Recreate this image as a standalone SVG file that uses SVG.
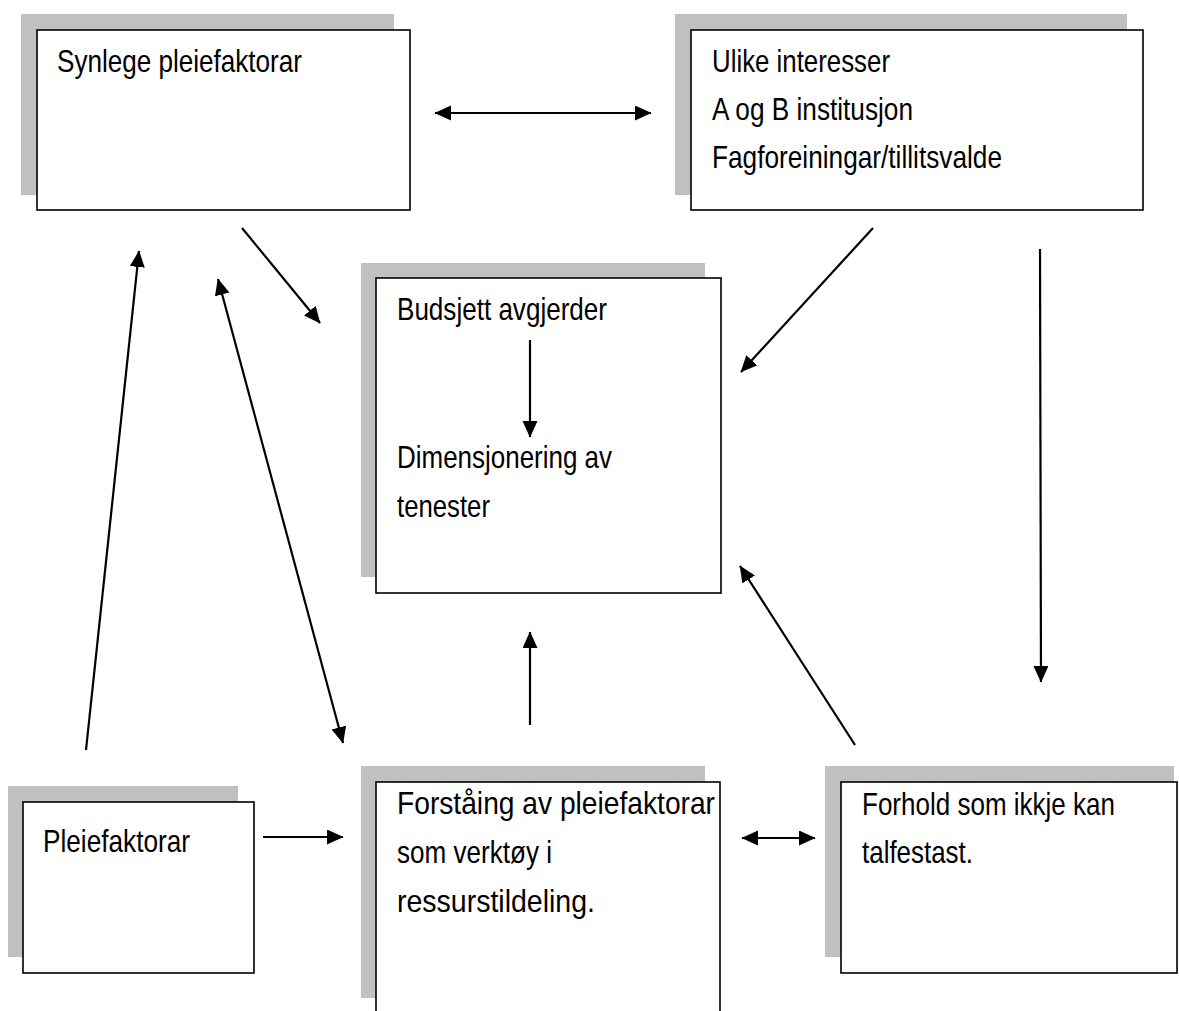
<svg xmlns="http://www.w3.org/2000/svg" width="1179" height="1011" viewBox="0 0 1179 1011">
  <style>
    .shadow { fill: #c0c0c0; }
    .box { fill: #ffffff; stroke: #000000; stroke-width: 1.6; }
    .label { font-family: "Liberation Sans", Arial, sans-serif; font-size: 30.5px; fill: #000000; }
    .conn line { stroke: #000000; stroke-width: 2.2; }
  </style>
  <defs>
    <marker id="head" markerUnits="userSpaceOnUse" markerWidth="18" markerHeight="16" refX="16" refY="7.5" orient="auto-start-reverse" viewBox="0 0 18 16">
      <path d="M0,0 L16.5,7.5 L0,15 z" fill="#000000"/>
    </marker>
  </defs>
  <rect width="1179" height="1011" fill="#ffffff"/>

  <!-- Synlege pleiefaktorar -->
  <g id="synlege">
    <rect class="shadow" x="21" y="14" width="373" height="181"/>
    <rect class="box" x="37" y="30" width="373" height="180"/>
    <text class="label" x="57" y="72" textLength="245" lengthAdjust="spacingAndGlyphs">Synlege pleiefaktorar</text>
  </g>

  <!-- Ulike interesser -->
  <g id="interesser">
    <rect class="shadow" x="675" y="14" width="452" height="181"/>
    <rect class="box" x="691" y="30" width="452" height="180"/>
    <text class="label" x="712" y="72" textLength="178" lengthAdjust="spacingAndGlyphs">Ulike interesser</text>
    <text class="label" x="712" y="120" textLength="201" lengthAdjust="spacingAndGlyphs">A og B institusjon</text>
    <text class="label" x="712" y="168" textLength="290" lengthAdjust="spacingAndGlyphs">Fagforeiningar/tillitsvalde</text>
  </g>

  <!-- Budsjett avgjerder / Dimensjonering -->
  <g id="budsjett">
    <rect class="shadow" x="361" y="263" width="344" height="314"/>
    <rect class="box" x="376" y="278" width="345" height="315"/>
    <text class="label" x="397" y="320" textLength="210" lengthAdjust="spacingAndGlyphs">Budsjett avgjerder</text>
    <text class="label" x="397" y="468" textLength="215" lengthAdjust="spacingAndGlyphs">Dimensjonering av</text>
    <text class="label" x="397" y="517" textLength="93" lengthAdjust="spacingAndGlyphs">tenester</text>
  </g>

  <!-- Pleiefaktorar -->
  <g id="pleiefaktorar">
    <rect class="shadow" x="8" y="786" width="230" height="171"/>
    <rect class="box" x="23" y="802" width="231" height="171"/>
    <text class="label" x="43" y="852" textLength="147" lengthAdjust="spacingAndGlyphs">Pleiefaktorar</text>
  </g>

  <!-- Forståing av pleiefaktorar -->
  <g id="forstaaing">
    <rect class="shadow" x="361" y="766" width="344" height="232"/>
    <rect class="box" x="376" y="782" width="344" height="250"/>
    <text class="label" x="397" y="814" textLength="318" lengthAdjust="spacingAndGlyphs">Forståing av pleiefaktorar</text>
    <text class="label" x="397" y="863" textLength="155" lengthAdjust="spacingAndGlyphs">som verktøy i</text>
    <text class="label" x="397" y="912" textLength="198" lengthAdjust="spacingAndGlyphs">ressurstildeling.</text>
  </g>

  <!-- Forhold som ikkje kan talfestast -->
  <g id="forhold">
    <rect class="shadow" x="825" y="766" width="349" height="191"/>
    <rect class="box" x="841" y="782" width="336" height="191"/>
    <text class="label" x="862" y="815" textLength="253" lengthAdjust="spacingAndGlyphs">Forhold som ikkje kan</text>
    <text class="label" x="862" y="863" textLength="111" lengthAdjust="spacingAndGlyphs">talfestast.</text>
  </g>

  <!-- connectors -->
  <g id="connectors" class="conn">
    <line x1="435" y1="113" x2="651" y2="113" marker-start="url(#head)" marker-end="url(#head)"/>
    <line x1="242" y1="228" x2="320" y2="323" marker-end="url(#head)"/>
    <line x1="873" y1="228" x2="741" y2="372" marker-end="url(#head)"/>
    <line x1="1040" y1="249" x2="1041" y2="682" marker-end="url(#head)"/>
    <line x1="86" y1="750" x2="139" y2="251" marker-end="url(#head)"/>
    <line x1="218" y1="279" x2="343" y2="743" marker-start="url(#head)" marker-end="url(#head)"/>
    <line x1="530" y1="340" x2="530" y2="437" marker-end="url(#head)"/>
    <line x1="530" y1="725" x2="530" y2="632" marker-end="url(#head)"/>
    <line x1="855" y1="745" x2="740" y2="566" marker-end="url(#head)"/>
    <line x1="263" y1="837" x2="343" y2="837" marker-end="url(#head)"/>
    <line x1="742" y1="838" x2="815" y2="838" marker-start="url(#head)" marker-end="url(#head)"/>
  </g>
</svg>
